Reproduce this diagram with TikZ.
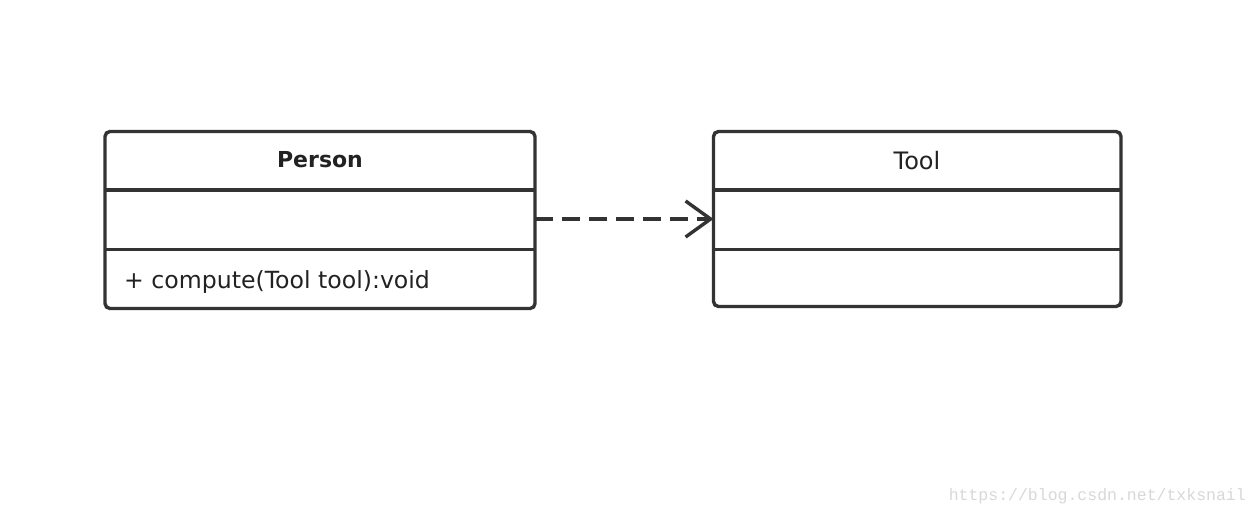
\documentclass[tikz,border=0pt]{standalone}
\usepackage{fontspec}
\setmainfont{DejaVu Sans}
\newfontfamily\wmfont{Liberation Mono}
\usetikzlibrary{arrows.meta}
\definecolor{linec}{HTML}{333333}
\definecolor{textc}{HTML}{222222}
\definecolor{wmc}{HTML}{D8D8D8}
\begin{document}
\begin{tikzpicture}[x=1pt,y=-1pt,
  classbox/.style={draw=linec, line width=3.4pt, rounded corners=5pt, inner sep=0pt, outer sep=0pt, fill=white},
  rowline/.style={draw=linec, line width=3.4pt},
  lbl/.style={inner sep=0pt, text=textc},
  dep/.style={draw=linec, line width=3.4pt, dash pattern=on 18pt off 9pt, -{Straight Barb[length=25pt,width=36pt,line width=3.4pt]}}
]
\useasboundingbox (0,0) rectangle (1256,514);
\fill[white] (0,0) rectangle (1256,514);
% Person
\node[classbox, minimum width=430pt, minimum height=177pt] (person) at (320,220) {};
\draw[rowline] (person.west |- {(0,190)}) coordinate (p1l) -- (person.east |- {(0,190)}) coordinate (p1r);
\draw[rowline] (person.west |- {(0,249.5)}) coordinate (p2l) -- (person.east |- {(0,249.5)}) coordinate (p2r);
\node[lbl, font=\fontsize{22}{26}\selectfont\bfseries] (pname) at (320,160) {Person};
\node[lbl, font=\fontsize{23.6}{27}\selectfont, anchor=base west] (pmeth) at (124,288) {+ compute(Tool tool):void};
% Tool
\node[classbox, minimum width=407.5pt, minimum height=175pt] (tool) at (917.25,219) {};
\draw[rowline] (tool.west |- {(0,190)}) coordinate (t1l) -- (tool.east |- {(0,190)}) coordinate (t1r);
\draw[rowline] (tool.west |- {(0,249.5)}) coordinate (t2l) -- (tool.east |- {(0,249.5)}) coordinate (t2r);
\node[lbl, font=\fontsize{24}{28}\selectfont] (tname) at (917,161) {Tool};
% dependency
\draw[dep] (person.east |- tool.west) -- (tool.west);
% watermark
\node[lbl, text=wmc, font=\wmfont\fontsize{16.5}{20}\selectfont, anchor=base east] (wm) at (1246,500) {https://blog.csdn.net/txksnail};
\end{tikzpicture}
\end{document}
